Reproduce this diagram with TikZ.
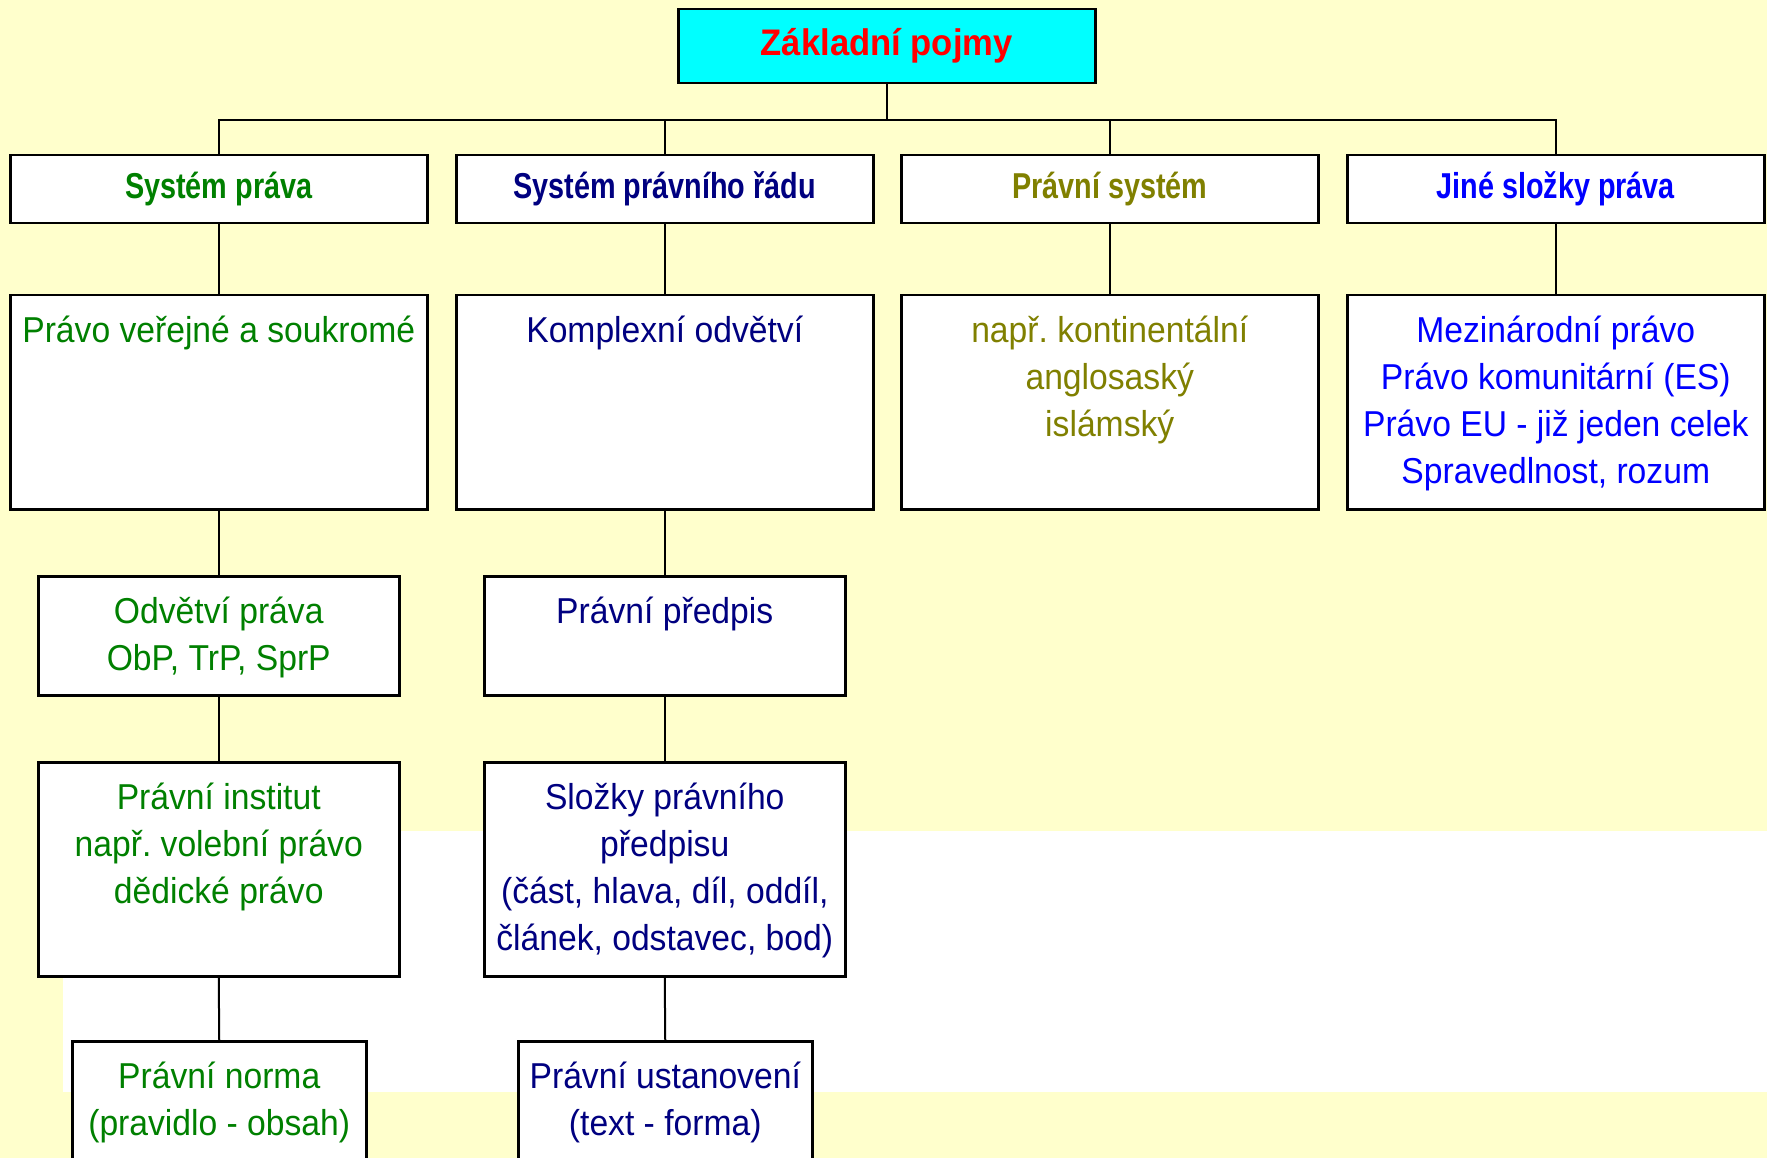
\documentclass[tikz,border=0pt]{standalone}
\usepackage{fontspec}
\setmainfont{Liberation Sans}[FakeStretch=0.935]
\newfontfamily\headfont[FakeStretch=0.8]{Liberation Sans}
\definecolor{bgyellow}{HTML}{FFFFCC}
\definecolor{cgreen}{HTML}{008000}
\definecolor{cnavy}{HTML}{000080}
\definecolor{colive}{HTML}{808000}
\definecolor{cblue}{HTML}{0000FF}
\definecolor{ccyan}{HTML}{00FFFF}
\definecolor{cred}{HTML}{FF0000}
\newcommand\inbox[3]{\parbox[t][#2][t]{#1}{\centering\rule{0pt}{47pt}#3}}
\tikzset{
  box/.style={draw=black, line width=2.5pt, fill=white, inner sep=0pt, anchor=north west,
    font=\frenchspacing\fontsize{36}{47}\selectfont},
  head/.style={minimum width=417pt, minimum height=68pt, font=\headfont\bfseries\fontsize{36}{40}\selectfont},
  conn/.style={draw=black, line width=2pt},
}
\begin{document}
\begin{tikzpicture}[x=1pt,y=-1pt]
\useasboundingbox (0,0) rectangle (1767,1158);
\clip (0,0) rectangle (1767,1158);
\fill[bgyellow] (0,0) rectangle (1767,1158);
\fill[white] (63,831) rectangle (1767,1092);

% title
\node[box, fill=ccyan, minimum width=417pt, minimum height=74pt, text=cred,
  font=\bfseries\fontsize{37}{40}\selectfont] (title) at (677,8) {\raisebox{-2.5pt}{Základní pojmy}};

% row 1
\node[box, head, text=cgreen] (s1) at (9,154) {Systém práva};
\node[box, head, text=cnavy] (s2) at (455,154) {Systém právního řádu};
\node[box, head, text=colive] (s3) at (900,154) {Právní systém};
\node[box, head, text=cblue] (s4) at (1346,154) {Jiné složky práva};

% row 2
\node[box, text=cgreen] (a1) at (9,294) {\inbox{417pt}{214pt}{Právo veřejné a soukromé}};
\node[box, text=cnavy] (a2) at (455,294) {\inbox{417pt}{214pt}{Komplexní odvětví}};
\node[box, text=colive] (a3) at (900,294) {\inbox{417pt}{214pt}{např. kontinentální\\anglosaský\\islámský}};
\node[box, text=cblue] (a4) at (1346,294) {\inbox{417pt}{214pt}{Mezinárodní právo\\Právo komunitární (ES)\\Právo EU - již jeden celek\\Spravedlnost, rozum}};

% row 3
\node[box, text=cgreen] (b1) at (37,575) {\inbox{361pt}{119pt}{Odvětví práva\\ObP, TrP, SprP}};
\node[box, text=cnavy] (b2) at (483,575) {\inbox{361pt}{119pt}{Právní předpis}};

% row 4
\node[box, text=cgreen] (c1) at (37,761) {\inbox{361pt}{214pt}{Právní institut\\např. volební právo\\dědické právo}};
\node[box, text=cnavy] (c2) at (483,761) {\inbox{361pt}{214pt}{Složky právního\\předpisu\\(část, hlava, díl, oddíl,\\článek, odstavec, bod)}};

% row 5
\node[box, text=cgreen] (d1) at (71,1040) {\inbox{294pt}{200pt}{Právní norma\\(pravidlo - obsah)}};
\node[box, text=cnavy] (d2) at (517,1040) {\inbox{294pt}{200pt}{Právní ustanovení\\(text - forma)}};

% connectors
\coordinate (bus) at (0,120);
\draw[conn] (title.south) -- (title.south |- bus);
\draw[conn] (s1.north) -- (s1.north |- bus) -- (s4.north |- bus) -- (s4.north);
\draw[conn] (s2.north) -- (s2.north |- bus);
\draw[conn] (s3.north) -- (s3.north |- bus);
\draw[conn] (s1.south) -- (a1.north);
\draw[conn] (s2.south) -- (a2.north);
\draw[conn] (s3.south) -- (a3.north);
\draw[conn] (s4.south) -- (a4.north);
\draw[conn] (a1.south) -- (b1.north);
\draw[conn] (a2.south) -- (b2.north);
\draw[conn] (b1.south) -- (c1.north);
\draw[conn] (b2.south) -- (c2.north);
\draw[conn] (c1.south) -- (d1.north);
\draw[conn] (c2.south) -- (d2.north);
\end{tikzpicture}
\end{document}
